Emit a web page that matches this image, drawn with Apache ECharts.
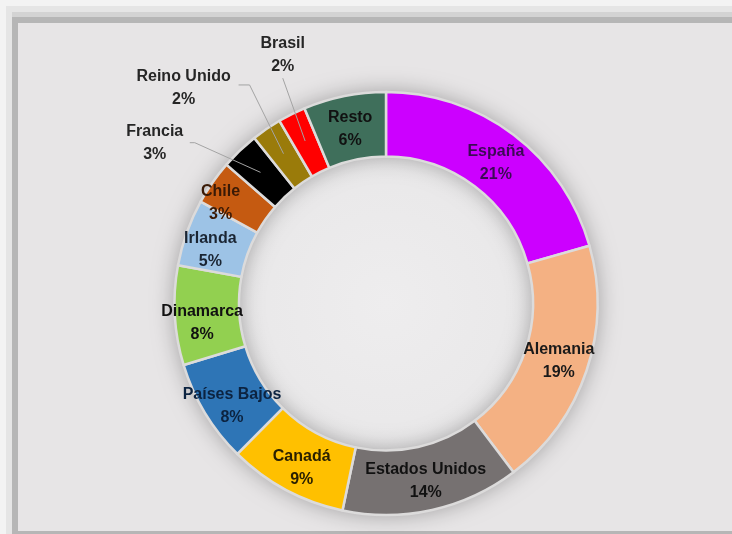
<!DOCTYPE html>
<html><head><meta charset="utf-8">
<script src="https://cdn.jsdelivr.net/npm/echarts@6/dist/echarts.min.js"></script>
<style>
html,body{margin:0;padding:0;width:732px;height:534px;overflow:hidden;background:#f3f3f3;}
.f{position:absolute;right:0;bottom:0;}
#f1{left:6px;top:6px;background:#e5e5e5;}
#f2{left:12px;top:12px;background:#d3d3d3;}
#f3{left:12px;top:17px;background:#b6b6b6;}
#f4{left:18px;top:23px;bottom:3px;background:#e7e5e6;}
#chart{position:absolute;left:0;top:0;width:732px;height:534px;}
</style></head><body>
<div class="f" id="f1"></div><div class="f" id="f2"></div><div class="f" id="f3"></div><div class="f" id="f4"></div>
<div id="chart"></div>
<script>
// ---- data ----
const categories = ['España','Alemania','Estados Unidos','Canadá','Países Bajos','Dinamarca','Irlanda','Chile','Francia','Reino Unido','Brasil','Resto'];
const shares = [20.6, 19.1, 13.6, 9.1, 7.9, 7.6, 5.1, 3.4, 2.9, 2.3, 2.1, 6.3];

// ---- styles ----
const colors = ['#cc00ff','#f4b183','#767171','#ffc000','#2e75b6','#92d050','#9dc3e6','#c55a11','#000000','#9a7b0a','#ff0000','#3f6f5b'];
const labelColors = ['#3c0a55','#1a1a1a','#111111','#2a2000','#0c2340','#111111','#1a2533','#3a1a06','#262626','#262626','#262626','#111111'];
const CENTER = [386, 303.5];
const R_IN = 147, R_OUT = 211.5;
const LINE_DEPTH = 30;
const outsideLayout = {
  'Francia':     {label:[-85,-8],  bend:[-45,-8],  end:[-50,-8]},
  'Reino Unido': {label:[-83,-41], bend:[-17,-44], end:[-28,-44]},
  'Brasil':      {label:[-9,-59],  bend:[-9,-36],  end:[-9,-36]}
};
const insideShift = {'España':[0,5], 'Resto':[0,4], 'Países Bajos':[2,8], 'Dinamarca':[-2,9], 'Irlanda':[-4,8], 'Chile':[-16,4], 'Canadá':[2,4]};

const total = shares.reduce((a,b)=>a+b,0);
function midDir(i){
  let cum = 0; for (let k=0;k<i;k++) cum += shares[k];
  const a = (cum + shares[i]/2)/total*2*Math.PI;
  return [Math.sin(a), -Math.cos(a)];
}

const chart = echarts.init(document.getElementById('chart'), null, {renderer:'canvas'});
const font = {fontFamily:'Liberation Sans, Arial, sans-serif', fontWeight:'bold', fontSize:16, lineHeight:23};
const fmt = p => p.name + '\n' + Math.round(p.percent) + '%';

chart.setOption({
  backgroundColor:'transparent',
  animation:false,
  series:[
    { // hole highlight (decoration)
      type:'pie', silent:true, radius:[0, R_IN], center:CENTER, label:{show:false}, labelLine:{show:false},
      itemStyle:{color:{type:'radial', x:0.5, y:0.5, r:0.5, colorStops:[{offset:0,color:'#eeedee'},{offset:1,color:'#e9e8e9'}]}},
      emphasis:{disabled:true}, data:[{value:1, name:''}]
    },
    { // ring shadow (decoration)
      type:'pie', silent:true, radius:[R_IN, R_OUT], center:CENTER, label:{show:false}, labelLine:{show:false},
      itemStyle:{color:'#dcdbdb', shadowBlur:22, shadowColor:'rgba(0,0,0,0.32)'},
      emphasis:{disabled:true}, data:[{value:1, name:''}]
    },
    { // coloured ring with inside labels
      type:'pie', radius:[R_IN, R_OUT], center:CENTER, startAngle:90, clockwise:true,
      avoidLabelOverlap:false, emphasis:{disabled:true},
      itemStyle:{borderColor:'#dcdbdb', borderWidth:2.5},
      label:Object.assign({show:true, position:'inside', formatter:fmt}, font),
      labelLine:{show:false},
      labelLayout:function(params){
        const sh = insideShift[categories[params.dataIndex]];
        return sh ? {dx:sh[0], dy:sh[1]} : {};
      },
      data: categories.map((n,i)=>({name:n, value:shares[i], itemStyle:{color:colors[i]},
          label:{color:labelColors[i], show: !outsideLayout[n]}}))
    },
    { // same data, transparent, carrying the outside labels and leader lines on top
      type:'pie', z:5, silent:true, radius:[R_IN, R_OUT], center:CENTER, startAngle:90, clockwise:true,
      avoidLabelOverlap:false, emphasis:{disabled:true},
      itemStyle:{color:'rgba(0,0,0,0)', borderWidth:0},
      label:Object.assign({show:true, position:'outside', formatter:fmt}, font),
      labelLine:{show:true, length:10, length2:10, lineStyle:{color:'#a3a3a3', width:1}},
      labelLayout:function(params){
        const i = params.dataIndex;
        const o = outsideLayout[categories[i]];
        if (!o) return {};
        const u = midDir(i);
        const p0 = [CENTER[0]+u[0]*R_OUT, CENTER[1]+u[1]*R_OUT];
        const s = [p0[0]-u[0]*LINE_DEPTH, p0[1]-u[1]*LINE_DEPTH];
        return {x:p0[0]+o.label[0], y:p0[1]+o.label[1], align:'center', verticalAlign:'middle',
          labelLinePoints:[s,[p0[0]+o.bend[0],p0[1]+o.bend[1]],[p0[0]+o.end[0],p0[1]+o.end[1]]]};
      },
      data: categories.map((n,i)=>{
        const out = !!outsideLayout[n];
        return {name:n, value:shares[i], label:{show:out, color:labelColors[i]}, labelLine:{show:out}};
      })
    }
  ]
});
</script>
</body></html>
